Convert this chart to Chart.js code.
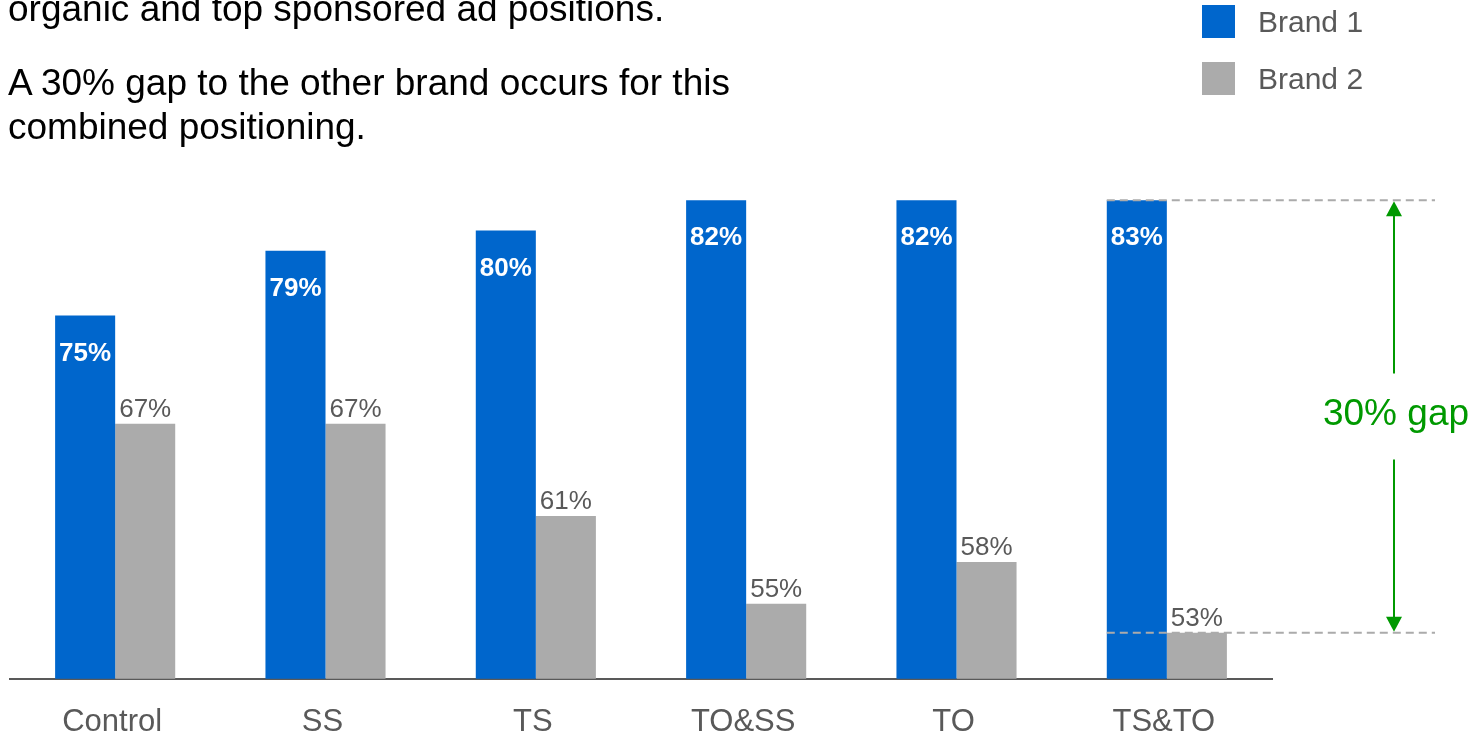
<!DOCTYPE html>
<html>
<head>
<meta charset="utf-8">
<script src="https://cdn.jsdelivr.net/npm/chart.js@4.4.0/dist/chart.umd.min.js"></script>
<style>
    html, body {
        margin: 0;
        padding: 0;
        width: 1482px;
        height: 734px;
        overflow: hidden;
        background: #fff;
        font-family: "Liberation Sans", Arial, sans-serif;
    }
    #chart-container {
        position: absolute;
        left: 0;
        top: 0;
        width: 1482px;
        height: 770px;
    }
    .note {
        position: absolute;
        left: 8px;
        margin: 0;
        font-size: 37px;
        line-height: 44px;
        color: #000;
        white-space: nowrap;
    }
    .legend {
        position: absolute;
        left: 1202px;
        top: 5px;
    }
    .legend-item {
        display: flex;
        align-items: center;
        height: 33px;
        margin-bottom: 24px;
        font-size: 30px;
        color: #595959;
    }
    .legend-item span {
        display: inline-block;
        width: 33px;
        height: 33px;
        margin-right: 23px;
    }
</style>
</head>
<body>
<div id="chart-container">
    <canvas id="gapChart" width="1482" height="770"></canvas>
</div>
<p class="note" style="top:-13px;">organic and top sponsored ad positions.</p>
<p class="note" style="top:61px;">A 30% gap to the other brand occurs for this<br>combined positioning.</p>
<div class="legend" id="legend"></div>

<script>
const FONT = '"Liberation Sans", Arial, sans-serif';

// --- Data ---
const positions = ['Control', 'SS', 'TS', 'TO&SS', 'TO', 'TS&TO'];
const brand1 = [75, 79.5, 80.9, 83, 83, 83];
const brand2 = [67.5, 67.5, 61.1, 55, 57.9, 53];
const brand1Labels = ['75%', '79%', '80%', '82%', '82%', '83%'];
const brand2Labels = ['67%', '67%', '61%', '55%', '58%', '53%'];
const gapText = '30% gap';

const BLUE = '#0066CC';
const GRAY = '#ABABAB';
const TEXT_GRAY = '#595959';
const GREEN = '#009900';

// value labels on the bars
const valueLabels = {
    id: 'valueLabels',
    afterDatasetsDraw(chart) {
        const ctx = chart.ctx;
        ctx.save();
        ctx.textAlign = 'center';
        ctx.textBaseline = 'alphabetic';

        ctx.font = `bold 26px ${FONT}`;
        ctx.fillStyle = '#fff';
        chart.getDatasetMeta(0).data.forEach((bar, i) => {
            ctx.fillText(brand1Labels[i], bar.x, bar.y + 45);
        });

        ctx.font = `26px ${FONT}`;
        ctx.fillStyle = TEXT_GRAY;
        chart.getDatasetMeta(1).data.forEach((bar, i) => {
            ctx.fillText(brand2Labels[i], bar.x, bar.y - 7);
        });
        ctx.restore();
    }
};

// dashed guides + arrow for the gap on the last category
const gapMarker = {
    id: 'gapMarker',
    afterDatasetsDraw(chart) {
        const ctx = chart.ctx;
        const y = chart.scales.y;
        const last = positions.length - 1;
        const hiBar = chart.getDatasetMeta(0).data[last];
        const yTop = y.getPixelForValue(brand1[last]);
        const yBot = y.getPixelForValue(brand2[last]);
        const xStart = hiBar.x - hiBar.width / 2;
        const xEnd = chart.chartArea.right + 163;
        const ax = chart.chartArea.right + 122;
        const mid = (yTop + yBot) / 2;

        ctx.save();
        ctx.strokeStyle = GRAY;
        ctx.lineWidth = 2;
        ctx.setLineDash([8, 5]);
        [yTop, yBot].forEach(yy => {
            ctx.beginPath();
            ctx.moveTo(xStart, yy);
            ctx.lineTo(xEnd, yy);
            ctx.stroke();
        });
        ctx.setLineDash([]);

        ctx.strokeStyle = GREEN;
        ctx.fillStyle = GREEN;
        ctx.beginPath();
        ctx.moveTo(ax, yTop + 14);
        ctx.lineTo(ax, mid - 43);
        ctx.moveTo(ax, mid + 43);
        ctx.lineTo(ax, yBot - 14);
        ctx.stroke();

        ctx.beginPath();
        ctx.moveTo(ax, yTop + 1);
        ctx.lineTo(ax - 8, yTop + 16);
        ctx.lineTo(ax + 8, yTop + 16);
        ctx.closePath();
        ctx.fill();

        ctx.beginPath();
        ctx.moveTo(ax, yBot - 1);
        ctx.lineTo(ax - 8, yBot - 16);
        ctx.lineTo(ax + 8, yBot - 16);
        ctx.closePath();
        ctx.fill();

        ctx.font = `37px ${FONT}`;
        ctx.textAlign = 'center';
        ctx.textBaseline = 'middle';
        ctx.fillText(gapText, ax + 2, mid - 2);
        ctx.restore();
    }
};

const ctx = document.getElementById('gapChart').getContext('2d');

const gapChart = new Chart(ctx, {
    type: 'bar',
    data: {
        labels: positions,
        datasets: [
            { label: 'Brand 1', data: brand1, backgroundColor: BLUE },
            { label: 'Brand 2', data: brand2, backgroundColor: GRAY }
        ]
    },
    options: {
        responsive: false,
        animation: false,
        layout: {
            padding: { left: 10, right: 210, top: 157, bottom: 4 }
        },
        datasets: {
            bar: { categoryPercentage: 0.571, barPercentage: 1.0 }
        },
        plugins: {
            legend: { display: false },
            tooltip: { enabled: false }
        },
        scales: {
            x: {
                offset: true,
                grid: { display: false, drawTicks: false },
                border: { display: true, color: TEXT_GRAY, width: 2 },
                ticks: {
                    color: TEXT_GRAY,
                    padding: 25,
                    labelOffset: -3,
                    font: { size: 31, family: FONT }
                }
            },
            y: {
                display: false,
                min: 49.8,
                max: 86
            }
        }
    },
    plugins: [valueLabels, gapMarker]
});

// HTML legend from the datasets
document.getElementById('legend').innerHTML = gapChart.data.datasets
    .map(ds => `<div class="legend-item"><span style="background:${ds.backgroundColor}"></span>${ds.label}</div>`)
    .join('');
</script>
</body>
</html>
